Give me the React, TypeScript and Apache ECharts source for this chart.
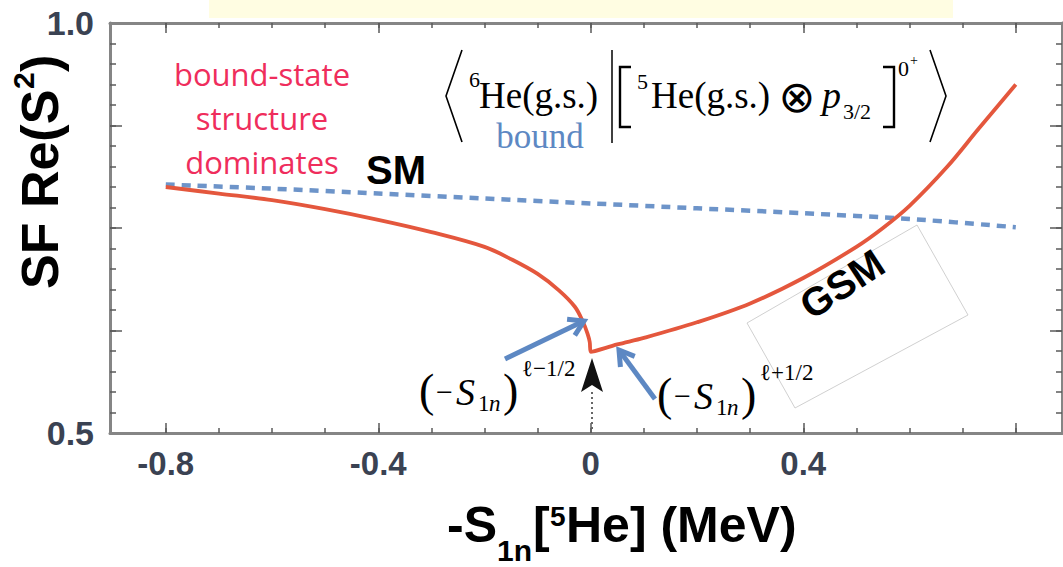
import React, { useEffect, useRef } from "react";
import * as echarts from "echarts";

// ---- data ----
const gsmX = [-0.8, -0.7, -0.6, -0.5, -0.4, -0.3, -0.2, -0.15, -0.1, -0.06, -0.03, -0.015, -0.006, -0.002, 0, 0.05, 0.1, 0.2, 0.3, 0.4, 0.5, 0.55, 0.6, 0.67, 0.73, 0.8];
const gsmY = [0.8, 0.792, 0.784, 0.773, 0.76, 0.745, 0.727, 0.712, 0.694, 0.674, 0.654, 0.636, 0.621, 0.611, 0.599, 0.608, 0.616, 0.635, 0.658, 0.689, 0.727, 0.75, 0.777, 0.824, 0.871, 0.925];
const smX = [-0.8, -0.6, -0.4, -0.2, 0, 0.2, 0.4, 0.6, 0.8];
const smY = [0.803, 0.798, 0.792, 0.786, 0.78, 0.774, 0.768, 0.761, 0.751];

const xMinorTicks = [-0.8, -0.7, -0.6, -0.5, -0.4, -0.3, -0.2, -0.1, 0, 0.1, 0.2, 0.3, 0.4, 0.5, 0.6, 0.7, 0.8];
const xMajorTicks = [-0.8, -0.4, 0, 0.4, 0.8];
const xTickLabels = [-0.8, -0.4, 0, 0.4];
const yMinorTicks = [0.525, 0.55, 0.575, 0.6, 0.625, 0.65, 0.675, 0.7, 0.725, 0.75, 0.775, 0.8, 0.825, 0.85, 0.875, 0.9, 0.925, 0.95, 0.975];
const yMajorTicks = [0.625, 0.75, 0.875];
const yTickLabels = [0.5, 1.0];

const SANS = '"Liberation Sans", Arial, Helvetica, sans-serif';
const SERIF = '"Liberation Serif", "Times New Roman", "DejaVu Serif", serif';
const CAL = '"Open Sans", "Noto Sans", sans-serif';
const BLUE = "#5d88c3";
const RED = "#e4573d";
const AXIS = "#858585";

function txt(text: string, x: number, y: number, size: number, opts: any = {}) {
  const align = opts.align || "left";
  return {
    type: "text",
    x,
    y,
    rotation: opts.rotation || 0,
    z: 100,
    style: {
      text,
      fill: opts.fill || "#000",
      fontSize: size,
      fontFamily: opts.family || SERIF,
      fontWeight: opts.weight || "normal",
      fontStyle: opts.style || "normal",
      lineHeight: opts.lineHeight,
      align,
      verticalAlign: "middle",
      textAlign: align,
      textVerticalAlign: "middle",
    },
  };
}

function poly(points: number[][], width: number, color = "#000", dash?: number[]) {
  return {
    type: "polyline",
    z: 100,
    shape: { points },
    style: { stroke: color, lineWidth: width, fill: null, lineDash: dash },
  };
}

function arrow(x1: number, y1: number, x2: number, y2: number, color: string, w: number) {
  const dx = x2 - x1;
  const dy = y2 - y1;
  const len = Math.sqrt(dx * dx + dy * dy);
  const ux = dx / len;
  const uy = dy / len;
  const hl = 17;
  const ang = 0.55;
  const p1 = [x2 - hl * (ux * Math.cos(ang) - uy * Math.sin(ang)), y2 - hl * (uy * Math.cos(ang) + ux * Math.sin(ang))];
  const p2 = [x2 - hl * (ux * Math.cos(ang) + uy * Math.sin(ang)), y2 - hl * (uy * Math.cos(ang) - ux * Math.sin(ang))];
  return [
    poly([[x1, y1], [x2 - ux * 2, y2 - uy * 2]], w, color),
    { type: "polyline", z: 100, shape: { points: [p1, [x2, y2], p2] }, style: { stroke: color, lineWidth: w, fill: null, lineJoin: "miter", lineCap: "butt" } },
  ];
}

export default function App() {
  const ref = useRef<HTMLDivElement>(null);
  useEffect(() => {
    if (!ref.current) return;
    const chart = echarts.init(ref.current, null, { renderer: "svg" });
    const xMin = -0.905;
    const xMax = 0.887;
    const xBase = {
      type: "value",
      min: xMin,
      max: xMax,
      splitLine: { show: false },
    };
    const yBase = {
      type: "value",
      min: 0.5,
      max: 1.0,
      splitLine: { show: false },
    };
    const line = (show: boolean) => ({ show, onZero: false, lineStyle: { color: AXIS, width: 3 } });
    const tickStyle = { color: "#5a5a5a", width: 1.5 };
    const B = { family: SANS, weight: "bold" };
    const graphic: any[] = [
      // pale yellow strip at top
      { type: "rect", z: 1, shape: { x: 209, y: 0, width: 744, height: 18 }, style: { fill: "#fffde2" } },
      // y axis title
      {
        type: "group",
        x: 40,
        y: 172,
        rotation: Math.PI / 2,
        z: 100,
        children: [
          txt("SF Re(S", -117, 0, 52, B),
          txt("2", 83, -17, 30, B),
          txt(")", 100, 0, 52, B),
        ],
      },
      // x axis title
      txt("-S", 447, 525, 50, B),
      txt("1n", 497, 550, 30, B),
      txt("[", 533, 525, 50, B),
      txt("5", 550, 516, 28, B),
      txt("He] (MeV)", 566, 525, 50, B),
      // annotation texts
      txt("bound-state\nstructure\ndominates", 262, 118, 31, { family: CAL, fill: "#ef2d5c", align: "center", lineHeight: 44 }),
      txt("SM", 396, 170, 40, { ...B, align: "center" }),
      txt("GSM", 842, 284, 40, { ...B, align: "center", rotation: 0.58 }),
      {
        type: "polygon",
        z: 90,
        shape: { points: [[747, 323], [917, 225], [968, 315], [795, 408]] },
        style: { stroke: "#c4c4c4", lineWidth: 0.8, fill: null },
      },
      // formula
      poly([[462, 50], [446, 96], [462, 142]], 1.6),
      txt("6", 469, 79, 22),
      txt("He(g.s.)", 479, 95, 37),
      txt("bound", 540, 136, 35, { fill: BLUE, align: "center" }),
      poly([[612, 50], [612, 143]], 1.5),
      poly([[631, 67], [620, 67], [620, 127], [631, 127]], 2.4),
      txt("5", 637, 81, 22),
      txt("He(g.s.)", 651, 95, 37),
      txt("\u2297", 797, 96, 44, { family: '"DejaVu Sans", sans-serif', align: "center" }),
      txt("p", 822, 95, 38, { style: "italic" }),
      txt("3/2", 843, 111, 22),
      poly([[883, 67], [894, 67], [894, 127], [883, 127]], 2.4),
      txt("0", 898, 68, 22),
      txt("+", 910, 60, 14),
      poly([[930, 50], [946, 96], [930, 142]], 1.6),
      // left math label (-S1n)^(l-1/2)
      txt("(", 419, 390, 46),
      txt("\u2212", 436, 391, 30),
      txt("S", 456, 392, 38, { style: "italic" }),
      txt("1", 478, 403, 23),
      txt("n", 489, 403, 23, { style: "italic" }),
      txt(")", 503, 390, 46),
      txt("\u2113\u22121/2", 522, 368, 23),
      // right math label
      txt("(", 657, 394, 46),
      txt("\u2212", 674, 395, 30),
      txt("S", 694, 396, 38, { style: "italic" }),
      txt("1", 716, 407, 23),
      txt("n", 727, 407, 23, { style: "italic" }),
      txt(")", 741, 394, 46),
      txt("\u2113+1/2", 760, 372, 23),
      // black arrow at threshold
      {
        type: "polygon",
        z: 100,
        shape: { points: [[592, 358], [603, 392], [592, 385], [581, 392]] },
        style: { fill: "#111" },
      },
      poly([[592, 392], [592, 431]], 2, "#666", [2, 3]),
      ...arrow(505, 359, 584, 321, BLUE, 5),
      ...arrow(655, 399, 619, 350, BLUE, 5),
    ];

    const option: any = {
      animation: false,
      backgroundColor: "#ffffff",
      grid: { left: 110, right: 1, top: 23, bottom: 134, containLabel: false },
      xAxis: [
        {
          ...xBase,
          position: "bottom",
          axisLine: line(true),
          axisTick: { show: true, inside: true, length: 5, customValues: xMinorTicks, lineStyle: tickStyle },
          axisLabel: {
            show: true,
            customValues: xTickLabels,
            margin: 14,
            color: "#3a4252",
            fontSize: 33,
            fontWeight: "bold",
            fontFamily: SANS,
            formatter: (v: number) => (Math.abs(v) < 1e-9 ? "0" : String(Math.round(v * 10) / 10)),
          },
        },
        {
          ...xBase,
          position: "bottom",
          axisLine: line(false),
          axisTick: { show: true, inside: true, length: 10, customValues: xMajorTicks, lineStyle: tickStyle },
          axisLabel: { show: false },
        },
        {
          ...xBase,
          position: "top",
          axisLine: line(true),
          axisTick: { show: true, inside: true, length: 5, customValues: xMinorTicks, lineStyle: tickStyle },
          axisLabel: { show: false },
        },
        {
          ...xBase,
          position: "top",
          axisLine: line(false),
          axisTick: { show: true, inside: true, length: 10, customValues: xMajorTicks, lineStyle: tickStyle },
          axisLabel: { show: false },
        },
      ],
      yAxis: [
        {
          ...yBase,
          position: "left",
          axisLine: line(true),
          axisTick: { show: true, inside: true, length: 6, customValues: yMinorTicks, lineStyle: tickStyle },
          axisLabel: {
            show: true,
            customValues: yTickLabels,
            margin: 16,
            padding: [12, 0, 0, 0],
            color: "#3a4252",
            fontSize: 34,
            fontWeight: "bold",
            fontFamily: SANS,
            formatter: (v: number) => v.toFixed(1),
          },
        },
        {
          ...yBase,
          position: "left",
          axisLine: line(false),
          axisTick: { show: true, inside: true, length: 12, customValues: yMajorTicks, lineStyle: tickStyle },
          axisLabel: { show: false },
        },
        {
          ...yBase,
          position: "right",
          axisLine: line(true),
          axisTick: { show: true, inside: true, length: 6, customValues: yMinorTicks, lineStyle: tickStyle },
          axisLabel: { show: false },
        },
        {
          ...yBase,
          position: "right",
          axisLine: line(false),
          axisTick: { show: true, inside: true, length: 12, customValues: yMajorTicks, lineStyle: tickStyle },
          axisLabel: { show: false },
        },
      ],
      series: [
        {
          name: "SM",
          type: "line",
          xAxisIndex: 0,
          yAxisIndex: 0,
          data: smX.map((x, i) => [x, smY[i]]),
          showSymbol: false,
          symbol: "none",
          smooth: 0.3,
          lineStyle: { color: BLUE, width: 4.5, type: [9, 7], opacity: 0.9 },
          z: 3,
        },
        {
          name: "GSM",
          type: "line",
          xAxisIndex: 0,
          yAxisIndex: 0,
          data: gsmX.map((x, i) => [x, gsmY[i]]),
          showSymbol: false,
          symbol: "none",
          smooth: 0.35,
          lineStyle: { color: RED, width: 3.8 },
          z: 4,
        },
      ],
      graphic,
    };
    chart.setOption(option);
    return () => chart.dispose();
  }, []);
  return (
    <div
      ref={ref}
      style={{ position: "fixed", left: 0, top: 0, width: 1063, height: 567, background: "#fff" }}
    />
  );
}
